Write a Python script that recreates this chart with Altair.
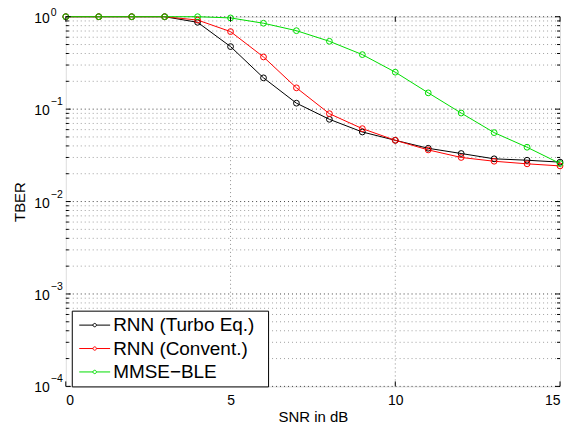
import altair as alt
import pandas as pd

# ---- data ----
snr = list(range(16))
turbo = [1, 1, 1, 1, 0.87, 0.475, 0.218, 0.116, 0.0776, 0.0566, 0.046, 0.0377, 0.0331, 0.029, 0.028, 0.0267]
convent = [1, 1, 1, 1, 0.92, 0.69, 0.367, 0.170, 0.0893, 0.0615, 0.046, 0.0362, 0.030, 0.0273, 0.0256, 0.0243]
mmse = [1, 1, 1, 1, 1, 0.97, 0.85, 0.706, 0.542, 0.389, 0.251, 0.150, 0.0907, 0.0557, 0.0387, 0.0258]
series_names = ["RNN (Turbo Eq.)", "RNN (Convent.)", "MMSE\u2212BLE"]
series_colors = ["#000000", "#ff0000", "#00dd00"]

x_ticks = [0, 5, 10, 15]
x_grid = [5, 10]
y_major = [1e-4, 1e-3, 1e-2, 1e-1, 1]
y_exps = ["\u22124", "\u22123", "\u22122", "\u22121", "0"]
y_minor = [m * 10.0 ** e for e in range(-4, 0) for m in range(2, 10)]

rows = []
for name, vals in zip(series_names, [turbo, convent, mmse]):
    for x, v in zip(snr, vals):
        rows.append({"snr": x, "tber": v, "series": name})
df = pd.DataFrame(rows)
major_df = pd.DataFrame({"v": y_major, "e": y_exps})
minor_df = pd.DataFrame({"v": y_minor})
xt_df = pd.DataFrame({"x": x_ticks})
xg_df = pd.DataFrame({"x": x_grid})

W, H = 496, 371
FONT = "Liberation Sans"

xs = alt.Scale(domain=[0, 15], nice=False, zero=False)
ys = alt.Scale(type="log", domain=[1e-4, 1], nice=False)
x_axis = alt.Axis(values=x_ticks, title="SNR in dB", grid=False, ticks=False, domain=False,
                  labelFontSize=14, labelPadding=7, labelFont=FONT, labelColor="black",
                  titleFontSize=15, titleFontWeight="normal", titleFont=FONT, titleColor="black",
                  titlePadding=2)
y_axis = alt.Axis(title="TBER", grid=False, ticks=False, domain=False, labels=False,
                  titleFontSize=15, titleFontWeight="normal", titleFont=FONT, titleColor="black",
                  titlePadding=38)

def X(field):
    return alt.X(field, type="quantitative", scale=xs, axis=x_axis)

def Y(field):
    return alt.Y(field, type="quantitative", scale=ys, axis=y_axis)

minor_grid = alt.Chart(minor_df).mark_rule(color="#a0a0a0", strokeDash=[1, 3], strokeWidth=1).encode(y=Y("v"))
major_grid = alt.Chart(major_df).mark_rule(color="#404040", strokeDash=[1, 3], strokeWidth=1).encode(y=Y("v"))
x_gridl = alt.Chart(xg_df).mark_rule(color="#909090", strokeDash=[1, 3], strokeWidth=1).encode(x=X("x"))

legend_path = ("M-1.55,0H-0.17M0.17,0H1.55M0.17,0A0.17,0.17,0,1,1,-0.17,0A0.17,0.17,0,1,1,0.17,0")

lines = alt.Chart(df).mark_line(strokeWidth=1, point=alt.OverlayMarkDef(filled=False, size=34, strokeWidth=1)).encode(
    x=X("snr"),
    y=Y("tber"),
    color=alt.Color("series:N", sort=series_names,
                    scale=alt.Scale(domain=series_names, range=series_colors),
                    legend=alt.Legend(orient="none", legendX=6, legendY=295,
                                      title="\u00a0", titleOrient="right", titlePadding=10,
                                      titleFontSize=6,
                                      symbolType=legend_path, symbolSize=400, symbolStrokeWidth=1,
                                      symbolFillColor="transparent",
                                      symbolOffset=8.5, labelOffset=8, padding=4, rowPadding=2.5,
                                      labelFontSize=19, labelFont=FONT, labelColor="black",
                                      strokeColor="black", fillColor="white")),
    order=alt.Order("snr:Q"),
)

# inward ticks (MATLAB style)
yt_l_major = alt.Chart(major_df).mark_rule(color="black").encode(y=Y("v"), x=alt.value(0), x2=alt.value(5))
yt_r_major = alt.Chart(major_df).mark_rule(color="black").encode(y=Y("v"), x=alt.value(W), x2=alt.value(W - 5))
yt_l_minor = alt.Chart(minor_df).mark_rule(color="black").encode(y=Y("v"), x=alt.value(0), x2=alt.value(3))
yt_r_minor = alt.Chart(minor_df).mark_rule(color="black").encode(y=Y("v"), x=alt.value(W), x2=alt.value(W - 3))
xt_b = alt.Chart(xt_df).mark_rule(color="black").encode(x=X("x"), y=alt.value(H), y2=alt.value(H - 5))
xt_t = alt.Chart(xt_df).mark_rule(color="black").encode(x=X("x"), y=alt.value(0), y2=alt.value(5))

# y tick labels 10^k
lab10 = alt.Chart(major_df).mark_text(align="right", baseline="middle", dx=-16, dy=2,
                                      fontSize=14, font=FONT, color="black").encode(
    y=Y("v"), x=alt.value(0), text=alt.value("10"))
labexp = alt.Chart(major_df).transform_filter("datum.v < 0.5").mark_text(
    align="left", baseline="middle", dx=-15, dy=-7, fontSize=10.5, font=FONT, color="black").encode(
    y=Y("v"), x=alt.value(0), text="e:N")
labexp_top = alt.Chart(major_df).transform_filter("datum.v > 0.5").mark_text(
    align="left", baseline="middle", dx=-15, dy=-3.5, fontSize=10.5, font=FONT, color="black").encode(
    y=Y("v"), x=alt.value(0), text="e:N")

chart = alt.layer(
    minor_grid, major_grid, x_gridl, lines,
    yt_l_major, yt_r_major, yt_l_minor, yt_r_minor, xt_b, xt_t,
    lab10, labexp, labexp_top,
).properties(
    width=W, height=H,
    autosize=alt.AutoSizeParams(type="none"),
    padding={"left": 58, "top": 8, "right": 9, "bottom": 38},
).configure_view(stroke="black", strokeWidth=1).configure(background="white")

chart.save("out.html", embed_options={"renderer": "svg", "actions": False})
